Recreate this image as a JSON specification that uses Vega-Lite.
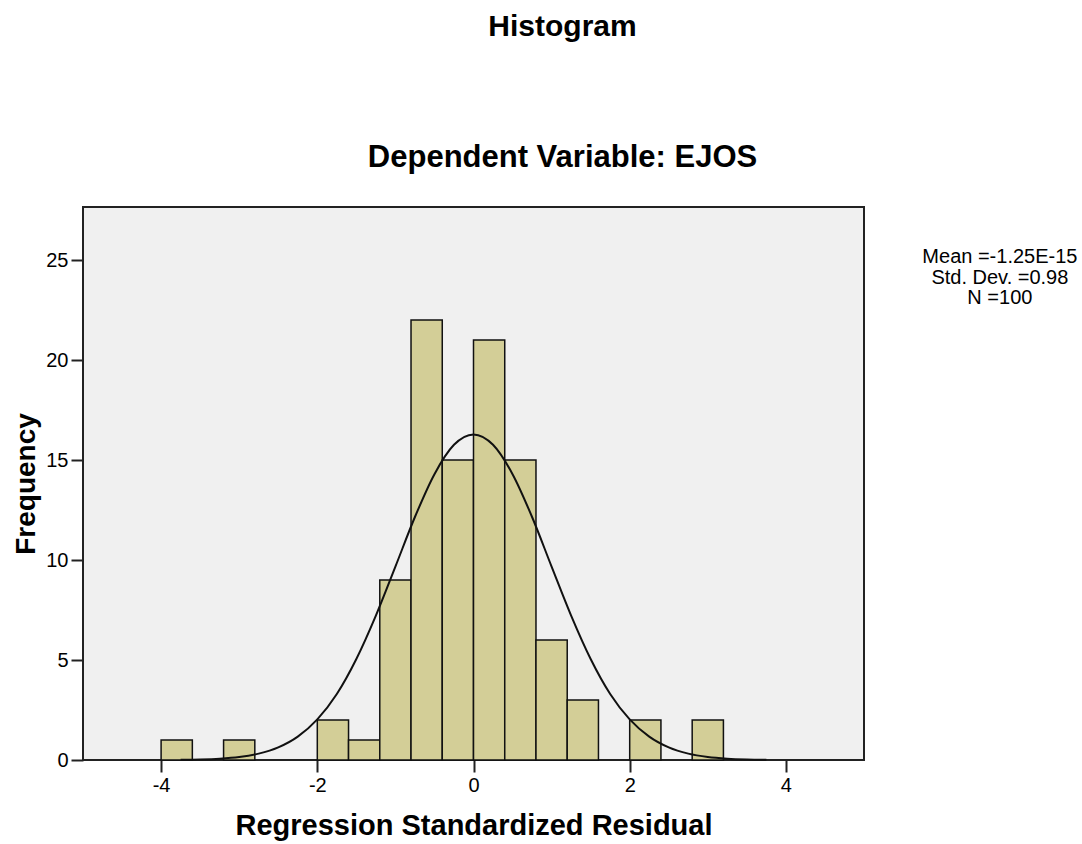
{
  "$schema": "https://vega.github.io/schema/vega-lite/v6.json",
  "width": 781,
  "height": 553,
  "autosize": {"type": "none"},
  "padding": {"left": 83, "top": 207, "right": 218, "bottom": 84},
  "background": "white",
  "config": {
    "font": "Liberation Sans",
    "view": {"fill": "#F0F0F0", "stroke": "#222222", "strokeWidth": 2},
    "axis": {
      "grid": false,
      "domain": false,
      "tickColor": "#222222",
      "tickWidth": 2,
      "tickSize": 12,
      "labelPadding": 3,
      "labelFont": "Liberation Sans",
      "labelFontSize": 20,
      "labelColor": "#000000",
      "labelExpr": "datum.value + ''",
      "titleFont": "Liberation Sans",
      "titleFontSize": 28,
      "titleFontWeight": "bold",
      "titleColor": "#000000"
    }
  },
  "title": {
    "text": "Histogram",
    "subtitle": "Dependent Variable: EJOS",
    "anchor": "middle",
    "frame": "group",
    "dx": 89,
    "offset": 34,
    "subtitlePadding": 101,
    "font": "Liberation Sans",
    "fontSize": 30,
    "fontWeight": "bold",
    "color": "#000000",
    "subtitleFont": "Liberation Sans",
    "subtitleFontSize": 31,
    "subtitleFontWeight": "bold",
    "subtitleColor": "#000000"
  },
  "datasets": {
    "bins": [
      {"bin_start": -4.0, "bin_end": -3.6, "count": 1},
      {"bin_start": -3.2, "bin_end": -2.8, "count": 1},
      {"bin_start": -2.0, "bin_end": -1.6, "count": 2},
      {"bin_start": -1.6, "bin_end": -1.2, "count": 1},
      {"bin_start": -1.2, "bin_end": -0.8, "count": 9},
      {"bin_start": -0.8, "bin_end": -0.4, "count": 22},
      {"bin_start": -0.4, "bin_end": 0.0, "count": 15},
      {"bin_start": 0.0, "bin_end": 0.4, "count": 21},
      {"bin_start": 0.4, "bin_end": 0.8, "count": 15},
      {"bin_start": 0.8, "bin_end": 1.2, "count": 6},
      {"bin_start": 1.2, "bin_end": 1.6, "count": 3},
      {"bin_start": 2.0, "bin_end": 2.4, "count": 2},
      {"bin_start": 2.8, "bin_end": 3.2, "count": 2}
    ],
    "curve": [
      {"x": -3.75, "y": 0.011},
      {"x": -3.5, "y": 0.028},
      {"x": -3.25, "y": 0.067},
      {"x": -3.0, "y": 0.150},
      {"x": -2.75, "y": 0.318},
      {"x": -2.5, "y": 0.629},
      {"x": -2.25, "y": 1.167},
      {"x": -2.0, "y": 2.03},
      {"x": -1.75, "y": 3.30},
      {"x": -1.5, "y": 5.05},
      {"x": -1.25, "y": 7.22},
      {"x": -1.0, "y": 9.67},
      {"x": -0.75, "y": 12.15},
      {"x": -0.5, "y": 14.29},
      {"x": -0.25, "y": 15.76},
      {"x": 0.0, "y": 16.28},
      {"x": 0.25, "y": 15.76},
      {"x": 0.5, "y": 14.29},
      {"x": 0.75, "y": 12.15},
      {"x": 1.0, "y": 9.67},
      {"x": 1.25, "y": 7.22},
      {"x": 1.5, "y": 5.05},
      {"x": 1.75, "y": 3.30},
      {"x": 2.0, "y": 2.03},
      {"x": 2.25, "y": 1.167},
      {"x": 2.5, "y": 0.629},
      {"x": 2.75, "y": 0.318},
      {"x": 3.0, "y": 0.150},
      {"x": 3.25, "y": 0.067},
      {"x": 3.5, "y": 0.028},
      {"x": 3.75, "y": 0.011}
    ],
    "stats": [
      {"label": "Mean =-1.25E-15\nStd. Dev. =0.98\nN =100"}
    ]
  },
  "layer": [
    {
      "data": {"name": "bins"},
      "mark": {"type": "rect", "fill": "#D3CE97", "stroke": "#111111", "strokeWidth": 1.5},
      "encoding": {
        "x": {
          "field": "bin_start",
          "type": "quantitative",
          "scale": {"domain": [-5, 5], "nice": false, "zero": false},
          "axis": {"values": [-4, -2, 0, 2, 4], "title": "Regression Standardized Residual", "titlePadding": 16, "titleFontSize": 29}
        },
        "x2": {"field": "bin_end"},
        "y": {
          "field": "count",
          "type": "quantitative",
          "scale": {"domain": [0, 27.65], "nice": false},
          "axis": {"values": [0, 5, 10, 15, 20, 25], "title": "Frequency", "titlePadding": 5}
        },
        "y2": {"datum": 0}
      }
    },
    {
      "data": {"name": "curve"},
      "mark": {"type": "line", "color": "#111111", "strokeWidth": 2, "interpolate": "monotone"},
      "encoding": {
        "x": {"field": "x", "type": "quantitative"},
        "y": {"field": "y", "type": "quantitative"}
      }
    },
    {
      "data": {"name": "stats"},
      "mark": {"type": "text", "align": "center", "baseline": "alphabetic", "lineBreak": "\n", "lineHeight": 20.5, "fontSize": 20, "font": "Liberation Sans", "color": "#000000"},
      "encoding": {
        "x": {"datum": 6.74},
        "y": {"datum": 24.85},
        "text": {"field": "label"}
      }
    }
  ]
}
